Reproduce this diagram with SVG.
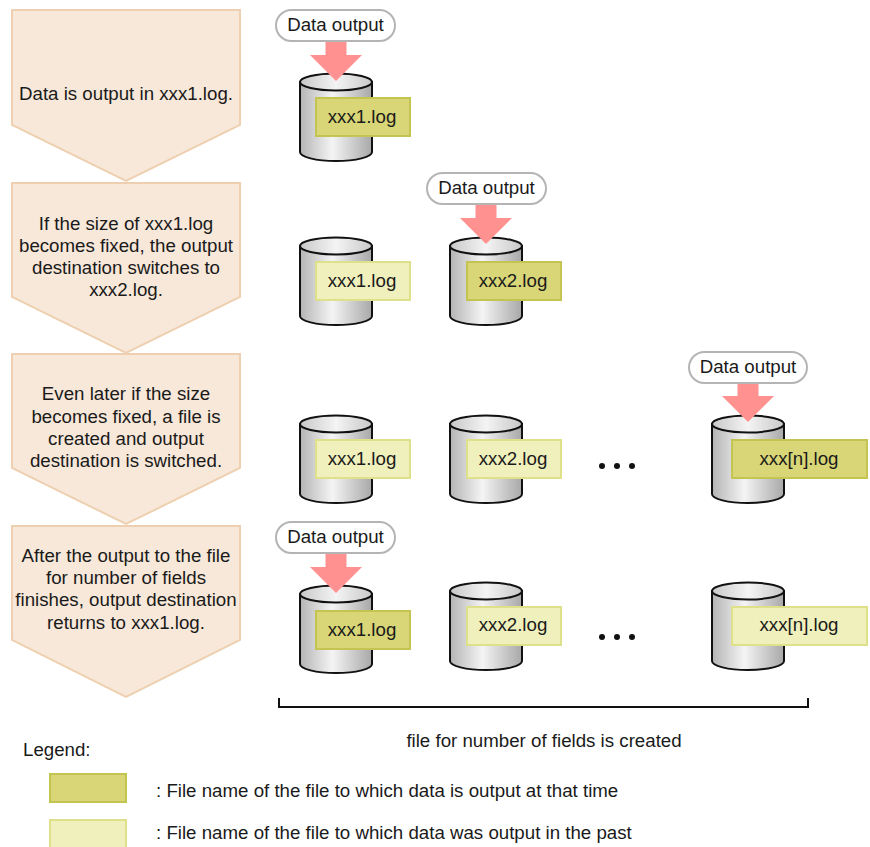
<svg xmlns="http://www.w3.org/2000/svg" width="870" height="847" viewBox="0 0 870 847">
<style>
text{font-family:"Liberation Sans",Arial,sans-serif;font-size:18.7px;fill:#1a1a1a}
.m{text-anchor:middle}
.step{fill:#f7e8d9;stroke:#eed0b0;stroke-width:2}
.cur{fill:#d8d676;stroke:#c4c452;stroke-width:2}
.past{fill:#f0f0bd;stroke:#dfe08a;stroke-width:2}
.bub{fill:#fff;stroke:#b4b4b4;stroke-width:2}
.arr{fill:#ff9191}
.line{fill:none;stroke:#111;stroke-width:2}
</style>
<defs>
<linearGradient id="side" x1="0" x2="1" y1="0" y2="0"><stop offset="0" stop-color="#b4b4b4"/><stop offset=".45" stop-color="#f4f4f4"/><stop offset="1" stop-color="#a8a8a8"/></linearGradient>
<linearGradient id="top" x1="0" x2="1" y1="0" y2="0"><stop offset="0" stop-color="#c8c8c8"/><stop offset=".5" stop-color="#f4f4f4"/><stop offset="1" stop-color="#c8c8c8"/></linearGradient>
<g id="cyl"><path d="M0 9V79C0 84 16 88 36 88S72 84 72 79V9Z" fill="url(#side)" stroke="#111" stroke-width="2"/><ellipse cx="36" cy="9" rx="36" ry="8.500" fill="url(#top)" stroke="#111" stroke-width="2"/></g>
<path id="down" class="arr" d="M-10.500 0H10.500V14H26L0 40-26 14H-10.500Z"/>
</defs>
<g id="steps">
<g id="step1"><path class="step" d="M12 10H240V125L126 181 12 125Z"/><text class="m" x="126" y="100">Data is output in xxx1.log.</text></g>
<g id="step2"><path class="step" d="M12 183H240V297L126 353 12 297Z"/><text class="m" x="126" y="230">If the size of xxx1.log</text><text class="m" x="126" y="252">becomes fixed, the output</text><text class="m" x="126" y="274">destination switches to</text><text class="m" x="126" y="296">xxx2.log.</text></g>
<g id="step3"><path class="step" d="M12 354H240V468L126 524 12 468Z"/><text class="m" x="126" y="400">Even later if the size</text><text class="m" x="126" y="423">becomes fixed, a file is</text><text class="m" x="126" y="445">created and output</text><text class="m" x="126" y="467">destination is switched.</text></g>
<g id="step4"><path class="step" d="M12 526H240V640L126 697 12 640Z"/><text class="m" x="126" y="562">After the output to the file</text><text class="m" x="126" y="584">for number of fields</text><text class="m" x="126" y="606">finishes, output destination</text><text class="m" x="126" y="629">returns to xxx1.log.</text></g>
</g>
<g id="row1">
<use href="#cyl" x="300" y="73"/>
<use href="#down" x="336" y="41"/>
<rect x="276" y="10" width="119" height="31" rx="15.500" class="bub"/><text class="m" x="335.500" y="31">Data output</text>
<rect class="cur" x="316" y="98" width="94" height="38"/><text class="m" x="362" y="123">xxx1.log</text>
</g>
<g id="row2">
<use href="#cyl" x="300" y="237"/>
<rect class="past" x="316" y="262" width="94" height="38"/><text class="m" x="362" y="287">xxx1.log</text>
<use href="#cyl" x="450" y="237"/>
<use href="#down" x="486" y="204"/>
<rect x="427" y="173" width="119" height="31" rx="15.500" class="bub"/><text class="m" x="486.500" y="194">Data output</text>
<rect class="cur" x="467" y="262" width="94" height="38"/><text class="m" x="513" y="287">xxx2.log</text>
</g>
<g id="row3">
<use href="#cyl" x="300" y="415"/>
<rect class="past" x="316" y="440" width="94" height="38"/><text class="m" x="362" y="465">xxx1.log</text>
<use href="#cyl" x="450" y="415"/>
<rect class="past" x="467" y="440" width="94" height="38"/><text class="m" x="513" y="465">xxx2.log</text>
<g fill="#111"><circle cx="602" cy="466" r="3"/><circle cx="617" cy="466" r="3"/><circle cx="632" cy="466" r="3"/></g>
<use href="#cyl" x="712" y="415"/>
<use href="#down" x="748" y="382"/>
<rect x="689" y="352" width="118" height="31" rx="15.500" class="bub"/><text class="m" x="748" y="373">Data output</text>
<rect class="cur" x="732" y="440" width="135" height="38"/><text class="m" x="799" y="465">xxx[n].log</text>
</g>
<g id="row4">
<use href="#cyl" x="300" y="585"/>
<use href="#down" x="336" y="553"/>
<rect x="276" y="522" width="119" height="31" rx="15.500" class="bub"/><text class="m" x="335.500" y="543">Data output</text>
<rect class="cur" x="316" y="611" width="94" height="38"/><text class="m" x="362" y="636">xxx1.log</text>
<use href="#cyl" x="450" y="582"/>
<rect class="past" x="467" y="607" width="94" height="38"/><text class="m" x="513" y="631">xxx2.log</text>
<g fill="#111"><circle cx="602" cy="637" r="3"/><circle cx="617" cy="637" r="3"/><circle cx="632" cy="637" r="3"/></g>
<use href="#cyl" x="712" y="582"/>
<rect class="past" x="732" y="607" width="135" height="38"/><text class="m" x="799" y="631">xxx[n].log</text>
</g>
<g id="connectors"><path class="line" d="M279 698V707H808V698"/></g>
<text class="m" x="544" y="747">file for number of fields is created</text>
<g id="legend">
<text x="23" y="756">Legend:</text>
<rect class="cur" x="50" y="774" width="76" height="28"/><text x="156" y="797">: File name of the file to which data is output at that time</text>
<rect class="past" x="50" y="820" width="76" height="28"/><text x="156" y="839">: File name of the file to which data was output in the past</text>
</g>
</svg>
